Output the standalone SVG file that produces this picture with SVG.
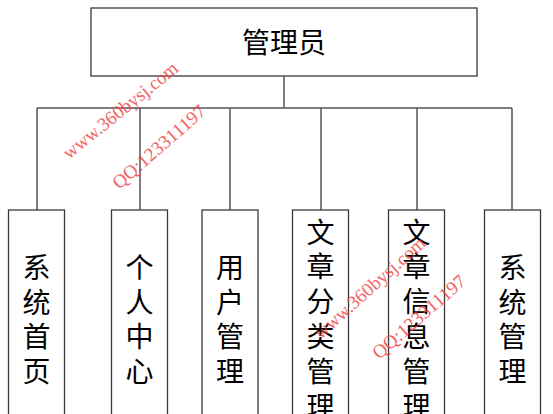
<svg xmlns="http://www.w3.org/2000/svg" width="553" height="414" viewBox="0 0 553 414">
<style>
.box{fill:#fff;stroke:#3a3a3a;stroke-width:1.3}
.t{font-family:"Noto Sans CJK SC","Noto Sans",sans-serif;font-size:28px;fill:#000;text-anchor:middle}
.c{fill:none;stroke:#555;stroke-width:1.5}
.wm{font-family:"Liberation Serif",serif;font-size:19px;fill:#f04848;opacity:0.85}
</style>
<rect width="553" height="414" fill="#fff"/>
<g id="connectors">
<path class="c" d="M284 76V108M37 108H512M37 108V210M140 108V210M230 108V210M321 108V210M417 108V210M512 108V210"/>
</g>
<g id="admin"><rect class="box" x="91" y="8" width="386" height="68"/><text class="t" x="284" y="53">管理员</text></g>
<g id="n1"><rect class="box" x="8.5" y="210" width="56" height="220"/>
<text class="t" x="36.5" y="278">系</text><text class="t" x="36.5" y="313">统</text><text class="t" x="36.5" y="347">首</text><text class="t" x="36.5" y="382">页</text></g>
<g id="n2"><rect class="box" x="111.5" y="210" width="56" height="220"/>
<text class="t" x="139.5" y="278">个</text><text class="t" x="139.5" y="313">人</text><text class="t" x="139.5" y="347">中</text><text class="t" x="139.5" y="382">心</text></g>
<g id="n3"><rect class="box" x="202" y="210" width="56" height="220"/>
<text class="t" x="230" y="278">用</text><text class="t" x="230" y="313">户</text><text class="t" x="230" y="347">管</text><text class="t" x="230" y="382">理</text></g>
<g id="n4"><rect class="box" x="292.5" y="210" width="56" height="220"/>
<text class="t" x="320.5" y="243">文</text><text class="t" x="320.5" y="277">章</text><text class="t" x="320.5" y="312">分</text><text class="t" x="320.5" y="347">类</text><text class="t" x="320.5" y="382">管</text><text class="t" x="320.5" y="417">理</text></g>
<g id="n5"><rect class="box" x="388.5" y="210" width="56" height="220"/>
<text class="t" x="416.5" y="243">文</text><text class="t" x="416.5" y="277">章</text><text class="t" x="416.5" y="312">信</text><text class="t" x="416.5" y="347">息</text><text class="t" x="416.5" y="382">管</text><text class="t" x="416.5" y="417">理</text></g>
<g id="n6"><rect class="box" x="484.5" y="210" width="56" height="220"/>
<text class="t" x="512.5" y="278">系</text><text class="t" x="512.5" y="313">统</text><text class="t" x="512.5" y="347">管</text><text class="t" x="512.5" y="382">理</text></g>
<g id="watermark">
<text class="wm" transform="translate(69,160) rotate(-39)">www.360bysj.com</text>
<text class="wm" transform="translate(119,190) rotate(-41)">QQ:123311197</text>
<text class="wm" transform="translate(321,340) rotate(-42)">www.360bysj.com</text>
<text class="wm" transform="translate(379,360) rotate(-41)">QQ:123311197</text>
</g>
</svg>
